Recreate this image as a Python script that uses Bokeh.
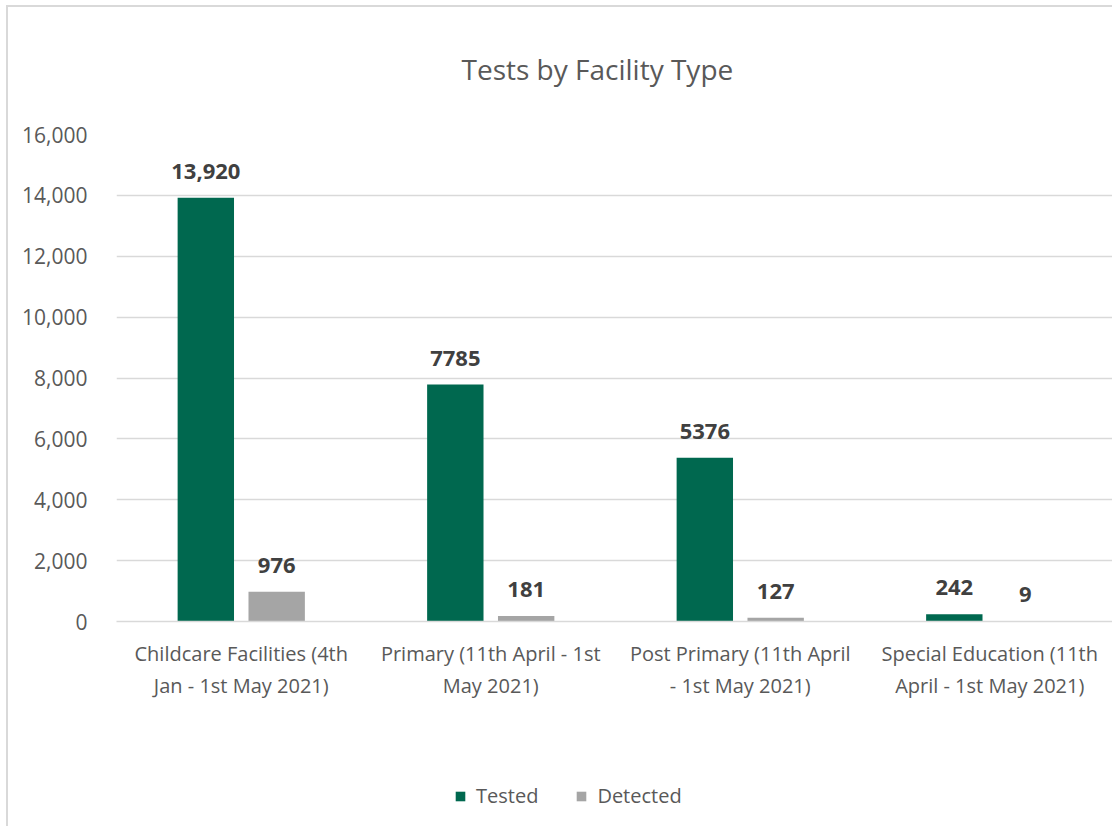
from bokeh.plotting import figure
from bokeh.layouts import column
from bokeh.models import (ColumnDataSource, Range1d, FixedTicker, NumeralTickFormatter,
                          Legend, LegendItem)
from bokeh.core.properties import value
from bokeh.embed import file_html
from bokeh.resources import INLINE

categories = ["Childcare Facilities (4th\nJan - 1st May 2021)",
              "Primary (11th April - 1st\nMay 2021)",
              "Post Primary (11th April\n- 1st May 2021)",
              "Special Education (11th\nApril - 1st May 2021)"]
series = ["Tested", "Detected"]
tested = [13920, 7785, 5376, 242]
detected = [976, 181, 127, 9]
tested_labels = ["13,920", "7785", "5376", "242"]
detected_labels = ["976", "181", "127", "9"]
y_ticks = [0, 2000, 4000, 6000, 8000, 10000, 12000, 14000, 16000]

FONT = "Open Sans"
GREEN = "#00684F"
GREY = "#A5A5A5"
TXT = "#595959"
LBL = "#404040"

W = 1112
H_MAIN = 722
H_LEG = 104

n = len(categories)
centers = [i + 0.5 for i in range(n)]
off = 0.142
bw = 0.226

src_t = ColumnDataSource(dict(x=[c - off for c in centers], top=tested, lab=tested_labels))
src_d = ColumnDataSource(dict(x=[c + off for c in centers], top=detected, lab=detected_labels))

p = figure(width=W, height=H_MAIN, output_backend="svg", toolbar_location=None,
           x_range=Range1d(0, 3.992), y_range=Range1d(0, 16000),
           min_border_left=116, min_border_right=0, min_border_top=134,
           min_border_bottom=H_MAIN - 621,
           title="Tests by Facility Type")
p.outline_line_color = None
p.background_fill_color = "white"
p.border_fill_alpha = 0

p.title.align = "left"
p.title.offset = 345
p.title.text_font = FONT
p.title.text_font_style = "normal"
p.title.text_font_size = "28px"
p.title.text_color = TXT
p.title.standoff = 93

p.vbar(x="x", top="top", width=bw, source=src_t, fill_color=GREEN, line_color=None)
p.vbar(x="x", top="top", width=bw, source=src_d, fill_color=GREY, line_color=None)

for s in (src_t, src_d):
    p.text(x="x", y="top", text="lab", source=s, text_align="center", text_baseline="bottom",
           y_offset=-19, text_font=value(FONT), text_font_style="bold",
           text_font_size="22px", text_color=LBL)

p.xaxis.ticker = FixedTicker(ticks=centers)
p.xaxis.major_label_overrides = {c: lab for c, lab in zip(centers, categories)}
p.xaxis.major_label_text_font = FONT
p.xaxis.major_label_text_font_size = "20px"
p.xaxis.major_label_text_color = TXT
p.xaxis.major_tick_line_color = None
p.xaxis.minor_tick_line_color = None
p.xaxis.axis_line_color = "#D9D9D9"
p.xaxis.axis_line_width = 1.5
p.xaxis.major_label_standoff = 12

p.yaxis.ticker = FixedTicker(ticks=y_ticks)
p.yaxis.formatter = NumeralTickFormatter(format="0,0")
p.yaxis.major_label_text_font = FONT
p.yaxis.major_label_text_font_size = "21px"
p.yaxis.major_label_text_color = TXT
p.yaxis.major_tick_line_color = None
p.yaxis.minor_tick_line_color = None
p.yaxis.axis_line_color = None
p.yaxis.major_label_standoff = 23

p.xgrid.grid_line_color = None
p.ygrid.grid_line_color = "#D9D9D9"
p.ygrid.grid_line_width = 1.5

# legend strip below the chart: key renderers sit outside its visible range
lf = figure(width=W, height=H_LEG, output_backend="svg", toolbar_location=None,
            x_range=Range1d(0, 1), y_range=Range1d(0, 1),
            min_border=0, min_border_left=0, min_border_right=0,
            min_border_top=0, min_border_bottom=0)
lf.axis.visible = False
lf.grid.visible = False
lf.outline_line_color = None
lf.background_fill_alpha = 0
lf.border_fill_alpha = 0
k_t = lf.vbar(x=[5], top=[1], width=0.1, fill_color=GREEN, line_color=None)
k_d = lf.vbar(x=[5], top=[1], width=0.1, fill_color=GREY, line_color=None)
legend = Legend(items=[LegendItem(label=series[0], renderers=[k_t]),
                       LegendItem(label=series[1], renderers=[k_d])],
                orientation="horizontal", location=(338, 17),
                glyph_width=12, glyph_height=12, spacing=37, padding=0, margin=0,
                label_standoff=10,
                label_text_font=FONT, label_text_font_size="20px", label_text_color=TXT,
                border_line_color=None, background_fill_alpha=0)
lf.add_layout(legend)

layout = column(p, lf, spacing=0)
layout.styles = {"box-shadow": "inset 6px 5px 0 0 white, inset 8px 7px 0 0 #D9D9D9",
                 "background-color": "white"}

open("out.html", "w").write(file_html(layout, INLINE))
